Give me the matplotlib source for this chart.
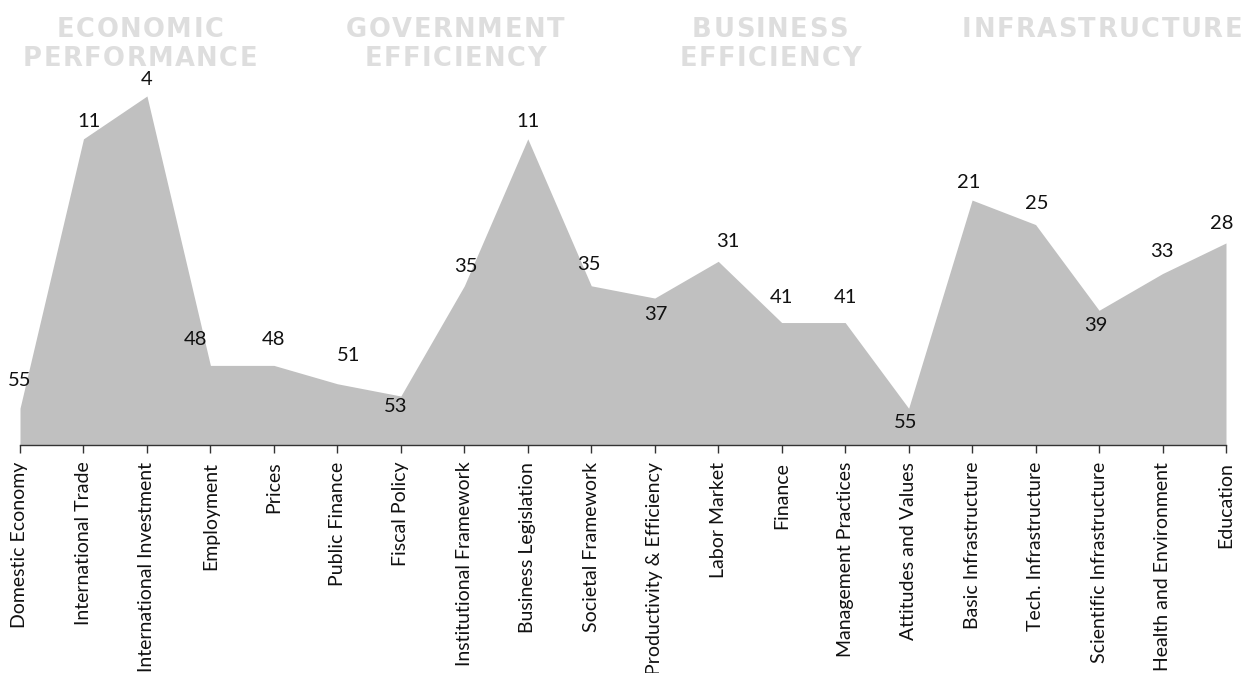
import matplotlib
matplotlib.use('Agg')
import matplotlib.pyplot as plt
from matplotlib.font_manager import FontProperties

# sub-factor ranks (1 = best), plotted on an inverted axis
factors = ['Domestic Economy', 'International Trade', 'International Investment',
           'Employment', 'Prices', 'Public Finance', 'Fiscal Policy',
           'Institutional Framework', 'Business Legislation', 'Societal Framework',
           'Productivity & Efficiency', 'Labor Market', 'Finance',
           'Management Practices', 'Attitudes and Values', 'Basic Infrastructure',
           'Tech. Infrastructure', 'Scientific Infrastructure',
           'Health and Environment', 'Education']
ranks = [55, 11, 4, 48, 48, 51, 53, 35, 11, 35, 37, 31, 41, 41, 55, 21, 25, 39, 33, 28]
groups = [['ECONOMIC', 'PERFORMANCE'], ['GOVERNMENT', 'EFFICIENCY'],
          ['BUSINESS', 'EFFICIENCY'], ['INFRASTRUCTURE']]

# label offsets in pixels (dx, dy) relative to each point
label_off = [(0, 28), (6, 17), (0, 16), (-15, 26), (0, 26), (11, 28), (-5, -10),
             (2, 19), (0, 17), (-2, 21), (1, -16), (10, 20), (0, 25), (0, 25),
             (-3, -14), (-3, 18), (1, 21), (-3, -15), (-1, 22), (-4, 19)]
group_cx = [140, 455, 770, 1102]      # header centres, pixels
line_y = [27, 56]                     # header line centres, pixels from top

W, H = 1246, 673
plt.rcParams['font.family'] = ['Lato', 'DejaVu Sans']

fig = plt.figure(figsize=(W / 100, H / 100), dpi=100)
ax = fig.add_axes([20 / W, 1 - 445 / H, 1206 / W, (445 - 71.5) / H])

x = list(range(len(factors)))
ax.fill_between(x, ranks, 61, color='#c0c0c0', linewidth=0)
ax.set_xlim(0, len(factors) - 1)
ax.set_ylim(61, 0)

for xi, r, (dx, dy) in zip(x, ranks, label_off):
    ax.annotate(str(r), (xi, r), xytext=(dx, dy), textcoords='offset pixels',
                ha='center', va='center', fontsize=14.5, color='#111111')

ax.set_xticks(x)
ax.set_xticklabels(factors, rotation=90, fontsize=14, color='#111111')
ax.tick_params(axis='x', length=6, width=1, color='#333333', pad=6)
ax.set_yticks([])
for s in ['top', 'left', 'right']:
    ax.spines[s].set_visible(False)
ax.spines['bottom'].set_color('#333333')
ax.spines['bottom'].set_linewidth(1)

# letter-spaced group headers, drawn char by char
hdr_font = FontProperties(family='DejaVu Sans', weight='bold', size=18.5)
spacing = 1.5
renderer = fig.canvas.get_renderer()


def char_w(ch):
    w, _, _ = renderer.get_text_width_height_descent(ch, hdr_font, ismath=False)
    return w


for cx, lines in zip(group_cx, groups):
    for ly, word in zip(line_y, lines):
        widths = [char_w(c) for c in word]
        total = sum(widths) + spacing * (len(word) - 1)
        px = cx - total / 2
        for c, w in zip(word, widths):
            fig.text(px / W, 1 - ly / H, c, ha='left', va='center_baseline',
                     fontproperties=hdr_font, color='#dedede')
            px += w + spacing

fig.savefig('out.png', dpi=100)
